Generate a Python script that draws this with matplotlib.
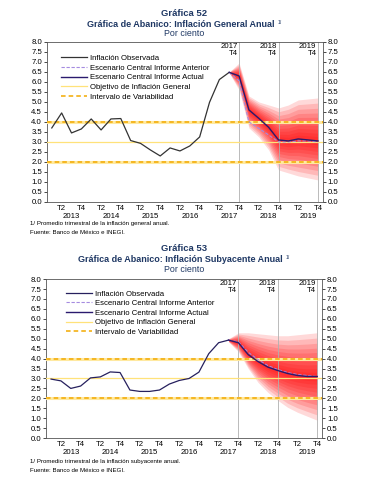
import numpy as np
import matplotlib.pyplot as plt

plt.rcParams['font.family'] = ['Liberation Sans', 'DejaVu Sans']

# quarters 2013Q1 .. 2019Q4 -> index 0..27
tick_pos = [1, 3, 5, 7, 9, 11, 13, 15, 17, 19, 21, 23, 25, 27]
tick_labels = ["T2", "T4"] * 7
year_pos = [2, 6, 10, 14, 18, 22, 26]
year_labels = ["2013", "2014", "2015", "2016", "2017", "2018", "2019"]
vline_pos = [19, 23, 27]
vline_labels = ["2017\nT4", "2018\nT4", "2019\nT4"]

# Grafica 52: inflacion general (2013Q1 .. 2017Q3)
gen_obs = [3.70, 4.45, 3.45, 3.65, 4.15, 3.60, 4.15, 4.17, 3.07, 2.93,
           2.60, 2.30, 2.70, 2.55, 2.80, 3.25, 4.98, 6.12, 6.48]
# forecasts 2017Q3 .. 2019Q4
gen_actual = [6.48, 6.30, 4.60, 4.18, 3.73, 3.10, 3.05, 3.15, 3.10, 3.05]
gen_anterior = [6.48, 6.05, 4.00, 3.68, 3.35, 3.00, 3.00, 3.05, 3.05, 3.00]
gen_fan_hi = [6.50, 6.95, 5.30, 5.00, 4.85, 4.70, 4.85, 5.10, 5.15, 5.20]
gen_fan_lo = [6.45, 5.60, 3.70, 3.25, 2.60, 1.60, 1.45, 1.30, 1.20, 1.10]

# Grafica 53: inflacion subyacente
sub_obs = [2.97, 2.88, 2.50, 2.62, 3.03, 3.08, 3.33, 3.30, 2.42, 2.35,
           2.35, 2.42, 2.72, 2.90, 3.00, 3.32, 4.25, 4.80, 4.93]
sub_actual = [4.93, 4.80, 4.20, 3.85, 3.57, 3.40, 3.25, 3.15, 3.10, 3.10]
sub_anterior = [4.93, 4.85, 4.32, 3.95, 3.65, 3.45, 3.30, 3.20, 3.15, 3.10]
sub_fan_hi = [5.00, 5.30, 5.30, 5.25, 5.20, 5.15, 5.15, 5.20, 5.25, 5.30]
sub_fan_lo = [4.85, 4.35, 3.50, 2.80, 2.30, 1.90, 1.55, 1.30, 1.10, 0.90]

meta = 3.0
intervalo = [2.0, 4.0]

title_col = "#1F3864"
fs = 5.6


def draw_panel(ax, obs, actual, anterior, hi, lo, obs_color, leg_anchor):
    x_obs = np.arange(len(obs))
    x_fc = np.arange(18, 18 + len(actual))
    c = np.array(actual)
    hi = np.array(hi)
    lo = np.array(lo)
    # fan: nested bands, darker towards the centre
    for f in [1.0, 0.88, 0.76, 0.65, 0.55, 0.45, 0.36, 0.27, 0.18, 0.1]:
        ax.fill_between(x_fc, c - f * (c - lo), c + f * (hi - c),
                        color="#FF0000", alpha=0.15, lw=0, zorder=1)
    for v in vline_pos:
        ax.axvline(v, color="#B0B0B0", lw=0.6, zorder=2)
    for v, t in zip(vline_pos, vline_labels):
        ax.text(v - 0.15, 7.95, t, ha="right", va="top", fontsize=fs,
                linespacing=0.95, zorder=5)
    ax.plot(x_obs, obs, color=obs_color, lw=0.9, zorder=4,
            label="Inflación Observada")
    ax.plot(x_fc, anterior, color="#A58BE0", lw=0.8, ls=(0, (3, 1.5)),
            zorder=4, label="Escenario Central Informe Anterior")
    ax.plot(x_fc, actual, color="#2A1A6E", lw=1.0, zorder=4,
            label="Escenario Central Informe Actual")
    ax.axhline(meta, color="#FFE27A", lw=0.9, zorder=3,
               label="Objetivo de Inflación General")
    for k, y in enumerate(intervalo):
        ax.axhline(y, color="#FFE9A0", lw=2.2, zorder=3)
        ax.axhline(y, color="#F2A900", lw=1.1, ls=(0, (3, 2)), zorder=3,
                   label="Intervalo de Variabilidad" if k == 0 else None)

    ax.set_xlim(-0.5, 27.5)
    ax.set_ylim(0, 8)
    ax.set_yticks(np.arange(0, 8.01, 0.5))
    ax.yaxis.set_major_formatter(plt.FormatStrFormatter("%.1f"))
    ax.tick_params(axis="y", labelsize=fs, length=2, width=0.5, pad=1.5,
                   right=True, labelright=True)
    ax.set_xticks(tick_pos)
    ax.set_xticklabels(tick_labels)
    ax.set_xticks(year_pos, minor=True)
    ax.set_xticklabels(year_labels, minor=True)
    ax.tick_params(axis="x", which="major", labelsize=fs, length=0, pad=2)
    ax.tick_params(axis="x", which="minor", labelsize=fs, length=0, pad=8)
    for s in ax.spines.values():
        s.set_linewidth(0.6)
        s.set_color("#555555")

    h, l = ax.get_legend_handles_labels()
    ax.legend(h, l, loc="upper left", bbox_to_anchor=leg_anchor,
              fontsize=fs, frameon=False, handlelength=3.4,
              handletextpad=0.3, labelspacing=0.28, borderaxespad=0)


def titles(fig, num, sub, y_num, y_sub, y_pc):
    fig.text(0.5, 1 - y_num / 482, num, ha="center", va="center",
             fontsize=6.8, fontweight="bold", color=title_col)
    t = fig.text(0.49, 1 - y_sub / 482, sub, ha="center", va="center",
                 fontsize=6.5, fontweight="bold", color=title_col)
    fig.canvas.draw()
    bb = t.get_window_extent()
    fig.text(bb.x1 / fig.bbox.width + 0.008, 1 - (y_sub - 1.5) / 482,
             "1/", ha="left", va="center", fontsize=3.6, color=title_col)
    fig.text(0.5, 1 - y_pc / 482, "Por ciento", ha="center", va="center",
             fontsize=6.4, color=title_col)


fig = plt.figure(figsize=(3.69, 4.82), dpi=100)

ax1 = fig.add_axes([0.127, 0.581, 0.748, 0.332])
draw_panel(ax1, gen_obs, gen_actual, gen_anterior, gen_fan_hi, gen_fan_lo,
           "#333333", (0.04, 0.94))
ax2 = fig.add_axes([0.125, 0.091, 0.748, 0.330])
draw_panel(ax2, sub_obs, sub_actual, sub_anterior, sub_fan_hi, sub_fan_lo,
           "#26205E", (0.06, 0.95))

titles(fig, "Gráfica 52", "Gráfica de Abanico: Inflación General Anual",
       14, 24.5, 34)
fig.text(0.08, 1 - 224 / 482,
         "1/ Promedio trimestral de la inflación general anual.",
         fontsize=4.4, va="center")
fig.text(0.08, 1 - 232 / 482, "Fuente: Banco de México e INEGI.",
         fontsize=4.4, va="center")

titles(fig, "Gráfica 53", "Gráfica de Abanico: Inflación Subyacente Anual",
       248.5, 259, 269)
fig.text(0.08, 1 - 462 / 482,
         "1/ Promedio trimestral de la inflación subyacente anual.",
         fontsize=4.4, va="center")
fig.text(0.08, 1 - 470 / 482, "Fuente: Banco de México e INEGI.",
         fontsize=4.4, va="center")

fig.savefig("out.png", dpi=100)
